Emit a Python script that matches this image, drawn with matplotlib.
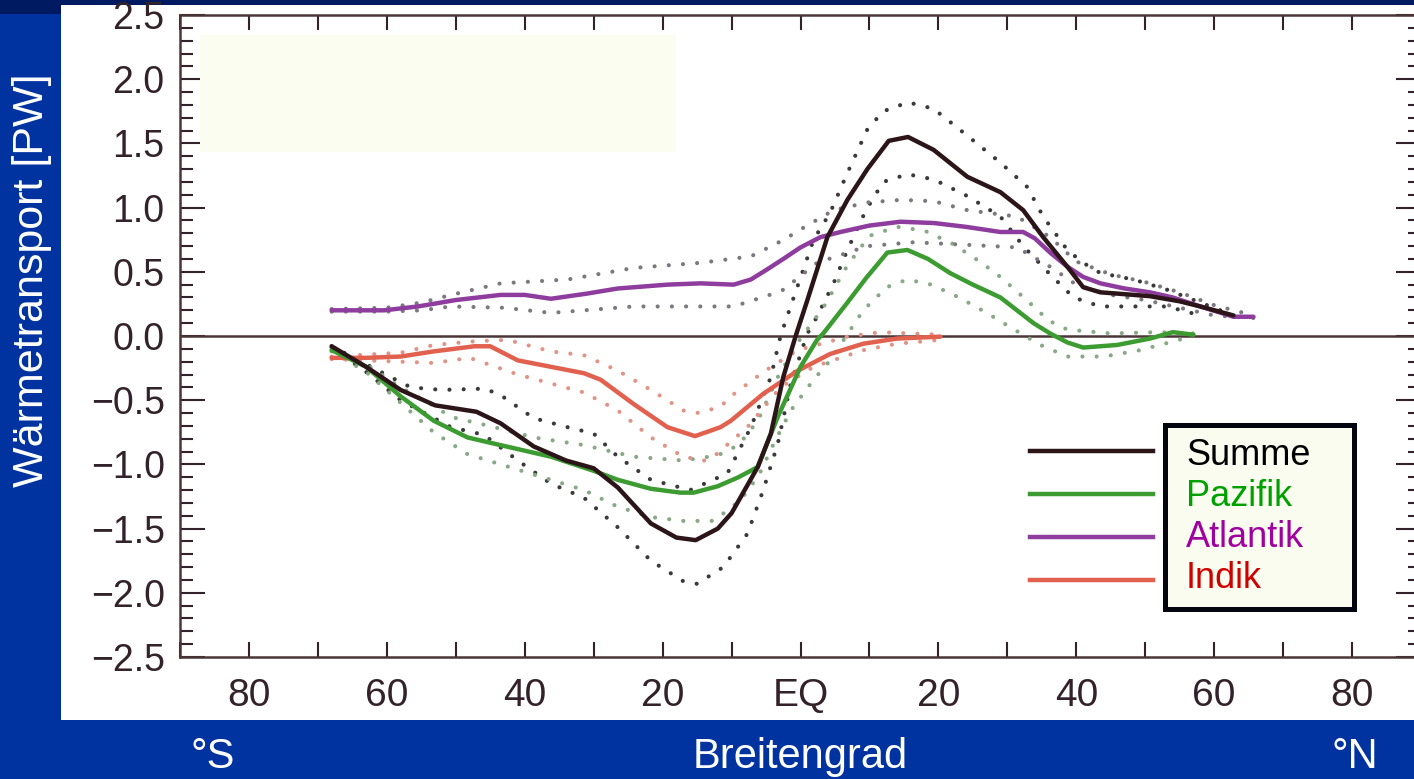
import matplotlib
matplotlib.use("Agg")
import matplotlib.pyplot as plt
from matplotlib.patches import Rectangle
from matplotlib.ticker import MultipleLocator, FixedLocator

plt.rcParams['font.family'] = ['Liberation Sans', 'DejaVu Sans']

# --- data (latitude in deg, negative = south; PW) ---
sum_lat = [-68, -63, -58, -53, -47, -43.5, -38.7, -34, -30, -26.5, -21.7, -18, -15.2, -12, -10,
           -6.2, -4.3, -2.5, -0.7, 1, 3.9, 6.8, 9.7, 12.8, 15.6, 19.3, 24.2, 29, 32.3, 35.2,
           38.7, 41, 43.5, 46, 50.7, 55, 58, 62.8]
sum_val = [-0.08, -0.24, -0.42, -0.54, -0.59, -0.68, -0.86, -0.97, -1.03, -1.18, -1.46, -1.57, -1.59,
           -1.50, -1.38, -1.02, -0.76, -0.32, 0.0, 0.28, 0.77, 1.06, 1.30, 1.52, 1.55, 1.45, 1.24,
           1.12, 0.98, 0.77, 0.54, 0.38, 0.34, 0.33, 0.31, 0.27, 0.23, 0.16]

sum_hi_lat = [-68, -63, -58, -56.5, -52, -45.8, -43.5, -38.7, -33.8, -30, -26.5, -21.7, -16, -10.6,
              -7.2, -4.3, -2.9, -1.5, 1.9, 4.3, 6.8, 9.7, 12, 15.6, 19.3, 24.2, 29, 32.9, 35.2,
              38.7, 41, 43.5, 48.3, 53.2, 58, 61.9]
sum_hi_val = [-0.08, -0.22, -0.36, -0.40, -0.42, -0.41, -0.46, -0.64, -0.71, -0.76, -0.94, -1.12,
              -1.20, -1.07, -0.71, -0.32, 0.0, 0.22, 0.75, 0.96, 1.27, 1.61, 1.75, 1.82, 1.77, 1.56,
              1.35, 1.16, 0.93, 0.67, 0.57, 0.49, 0.44, 0.36, 0.26, 0.18]

sum_lo_lat = [-68, -63, -58, -50.7, -45.9, -41, -36.2, -31.4, -26.5, -21.7, -17, -15, -11.2, -7.7,
              -5.4, -3.3, -1.4, 1, 1.9, 4.8, 6.8, 9.5, 12, 15.5, 19.3, 24.2, 29, 32.3, 36.2, 39.6,
              43.5, 48.3, 53.2, 58]
sum_lo_val = [-0.09, -0.28, -0.50, -0.71, -0.77, -0.97, -1.15, -1.26, -1.49, -1.75, -1.91, -1.93,
              -1.80, -1.54, -1.20, -0.84, -0.37, 0.02, 0.10, 0.41, 0.67, 0.98, 1.20, 1.26, 1.22,
              1.09, 0.93, 0.70, 0.48, 0.30, 0.23, 0.23, 0.23, 0.16]

pac_lat = [-68, -63, -58, -53.2, -48.3, -43.5, -36.2, -30, -26.5, -21.7, -17.4, -15.5, -12, -9,
           -6.2, -3.3, 0, 2.4, 3.3, 6.8, 9.5, 12.6, 15.5, 18.5, 21.7, 25, 29, 33.8, 36.2, 38.7,
           41, 45.9, 50.7, 54, 57]
pac_val = [-0.11, -0.24, -0.47, -0.66, -0.79, -0.85, -0.94, -1.05, -1.12, -1.19, -1.22, -1.22,
           -1.17, -1.10, -1.02, -0.63, -0.24, -0.03, 0.02, 0.26, 0.45, 0.65, 0.67, 0.60, 0.49,
           0.40, 0.30, 0.10, 0.02, -0.05, -0.09, -0.07, -0.02, 0.03, 0.01]

pac_hi_lat = [-68, -63, -58, -53, -50.7, -44.4, -38.7, -31.4, -24.2, -17, -12, -9, -6.2, -3.3, 0,
              3.3, 6.8, 10, 14, 18, 22, 26, 29, 33, 36, 38.7, 45, 52, 57]
pac_hi_val = [-0.11, -0.22, -0.40, -0.55, -0.63, -0.71, -0.79, -0.85, -0.94, -0.97, -0.93, -0.85,
              -0.66, -0.32, -0.02, 0.22, 0.55, 0.78, 0.85, 0.82, 0.72, 0.58, 0.46, 0.27, 0.12,
              0.05, 0.02, 0.03, 0.02]

pac_lo_lat = [-68, -63, -58, -53.2, -48.3, -43.5, -36.2, -31.4, -26.5, -21.7, -17, -12.6, -8.7, -6,
              -3.9, -1.4, 1.9, 4.3, 9.1, 12.5, 15.5, 19, 23, 27, 31, 34.8, 38.7, 44, 49.3, 57]
pac_lo_val = [-0.12, -0.28, -0.52, -0.75, -0.92, -1.00, -1.12, -1.20, -1.33, -1.41, -1.44, -1.44,
              -1.28, -1.08, -0.84, -0.58, -0.34, -0.19, 0.20, 0.38, 0.44, 0.40, 0.30, 0.18, 0.05,
              -0.07, -0.16, -0.16, -0.11, 0.0]

atl_lat = [-68, -60.4, -55.5, -50, -43.5, -40, -36.2, -31, -26.5, -19.3, -14.5, -9.7, -7.2, -4.8,
           -2.5, 0, 2.9, 5.8, 10, 14.5, 19.3, 24, 26.5, 29, 32.3, 34, 36.2, 38.7, 41, 43.5, 47,
           50.7, 54, 58, 62.8, 65.7]
atl_val = [0.20, 0.20, 0.23, 0.28, 0.32, 0.32, 0.29, 0.33, 0.37, 0.40, 0.41, 0.40, 0.44, 0.52,
           0.60, 0.69, 0.77, 0.81, 0.86, 0.89, 0.88, 0.85, 0.83, 0.81, 0.81, 0.76, 0.65, 0.54,
           0.46, 0.41, 0.37, 0.34, 0.30, 0.23, 0.15, 0.15]

atl_hi_lat = [-68, -60, -55, -50.7, -43.5, -33.8, -24.2, -14.5, -7.2, -2.4, 0, 4.8, 9.7, 14.5,
              19.3, 24.2, 31.4, 36.2, 40, 45, 50, 55, 60, 65.7]
atl_hi_val = [0.21, 0.22, 0.26, 0.32, 0.41, 0.44, 0.53, 0.57, 0.62, 0.75, 0.83, 0.98, 1.04, 1.06,
              1.05, 0.98, 0.93, 0.77, 0.58, 0.48, 0.42, 0.34, 0.24, 0.16]

atl_lo_lat = [-68, -60, -55, -50.7, -43, -36.2, -24.2, -9.7, -3.9, -2.5, 2.4, 9.7, 16.4, 24.2,
              31.4, 36.2, 40, 45, 50, 55, 60, 65.7]
atl_lo_val = [0.19, 0.19, 0.20, 0.23, 0.22, 0.18, 0.23, 0.23, 0.33, 0.36, 0.57, 0.70, 0.73, 0.71,
              0.69, 0.54, 0.40, 0.32, 0.28, 0.22, 0.16, 0.14]

ind_lat = [-68, -63, -58, -53.2, -47.3, -45, -41, -36.2, -31.4, -29, -24.2, -19.3, -15.3, -11.6,
           -10.1, -5.4, -0.4, 4.3, 9.1, 14, 20.3]
ind_val = [-0.17, -0.17, -0.16, -0.12, -0.08, -0.08, -0.19, -0.24, -0.29, -0.34, -0.53, -0.71,
           -0.78, -0.71, -0.66, -0.45, -0.27, -0.14, -0.06, -0.02, -0.005]

ind_hi_lat = [-68, -58, -53.2, -47, -42.5, -36.2, -31.4, -26.5, -21.7, -17, -14.7, -11.6, -10.1,
              -5.4, -0.4, 6.8, 11.6, 20.3]
ind_hi_val = [-0.16, -0.13, -0.07, -0.04, -0.03, -0.12, -0.15, -0.27, -0.42, -0.58, -0.60, -0.55,
              -0.47, -0.28, -0.11, -0.005, 0.03, 0.01]

ind_lo_lat = [-68, -58, -53.2, -48, -41, -36.2, -31.4, -26.5, -21.7, -17, -14, -12.6, -7.7, -2.9,
              1.9, 9.1, 14, 20.3]
ind_lo_val = [-0.18, -0.20, -0.21, -0.17, -0.30, -0.37, -0.44, -0.58, -0.79, -0.94, -0.97, -0.94,
              -0.71, -0.40, -0.24, -0.11, -0.06, -0.03]

x_ticks = [-80, -60, -40, -20, 0, 20, 40, 60, 80]
x_labels = ['80', '60', '40', '20', 'EQ', '20', '40', '60', '80']
y_ticks = [-2.5, -2.0, -1.5, -1.0, -0.5, 0.0, 0.5, 1.0, 1.5, 2.0, 2.5]

legend_names = ['Summe', 'Pazifik', 'Atlantik', 'Indik']
line_colors = ['#2b1519', '#3c9c32', '#8e3c9e', '#e2604e']
text_colors = ['#000000', '#00a000', '#a000a0', '#d00000']
band_colors = ['#3a3a3a', '#88a886', '#7d7880', '#e09488']

W, H = 1414, 779
fig = plt.figure(figsize=(W / 100, H / 100), dpi=100)
fig.patch.set_facecolor('#0033a0')

def px_rect(x0, y0, x1, y1, color):
    fig.add_artist(Rectangle((x0 / W, 1 - y1 / H), (x1 - x0) / W, (y1 - y0) / H,
                             transform=fig.transFigure, color=color, lw=0, zorder=-5))

px_rect(0, 0, W, 5, '#001a62')
px_rect(0, 0, 61, 14, '#001a62')
px_rect(61, 5, W, 720, 'white')

ax = fig.add_axes([180 / W, 1 - 657 / H, 1241 / W, 642 / H])
ax.patch.set_alpha(0)
ax.set_xlim(-90, 90)
ax.set_ylim(-2.5, 2.5)

ink = '#33222a'
ax.axhline(0, color='#4a3537', lw=1.8, zorder=2)

curves = [(sum_lat, sum_val, sum_hi_lat, sum_hi_val, sum_lo_lat, sum_lo_val),
          (pac_lat, pac_val, pac_hi_lat, pac_hi_val, pac_lo_lat, pac_lo_val),
          (atl_lat, atl_val, atl_hi_lat, atl_hi_val, atl_lo_lat, atl_lo_val),
          (ind_lat, ind_val, ind_hi_lat, ind_hi_val, ind_lo_lat, ind_lo_val)]
dots = (0, (0.01, 3.4))
for i, (la, va, hla, hva, lla, lva) in enumerate(curves):
    ax.plot(hla, hva, color=band_colors[i], lw=3.0, ls=dots, dash_capstyle='round', zorder=3)
    ax.plot(lla, lva, color=band_colors[i], lw=3.0, ls=dots, dash_capstyle='round', zorder=3)
for i, (la, va, *_rest) in reversed(list(enumerate(curves))):
    ax.plot(la, va, color=line_colors[i], lw=3.2, solid_capstyle='round', zorder=4)

# ivory patch at top left
ax.add_patch(Rectangle((0.016, 0.786), 0.384, 0.183, transform=ax.transAxes,
                       fc='#fbfdf0', ec='none', zorder=5))

# legend: sample lines outside, labels in a framed box
legend_y = [0.3209, 0.2539, 0.1869, 0.1199]
for yy, c in zip(legend_y, line_colors):
    ax.plot([0.685, 0.784], [yy, yy], transform=ax.transAxes, color=c, lw=3.2, zorder=6)
ax.add_patch(Rectangle((0.794, 0.075), 0.152, 0.286, transform=ax.transAxes,
                       fc='#fafcef', ec='#05050f', lw=3.6, zorder=6))
text_y = [0.299, 0.235, 0.171, 0.1075]
for yy, name, c in zip(text_y, legend_names, text_colors):
    ax.text(0.8106, yy, name, transform=ax.transAxes, color=c, fontsize=26,
            va='baseline', ha='left', zorder=7)

ax.xaxis.set_major_locator(FixedLocator(x_ticks))
ax.set_xticklabels(x_labels)
ax.xaxis.set_minor_locator(MultipleLocator(10))
ax.yaxis.set_major_locator(FixedLocator(y_ticks))
ax.yaxis.set_minor_locator(MultipleLocator(0.1))
ax.set_yticklabels(['\u22122.5', '\u22122.0', '\u22121.5', '\u22121.0', '\u22120.5',
                    '0.0', '0.5', '1.0', '1.5', '2.0', '2.5'])

ax.tick_params(axis='x', which='both', direction='in', length=11, width=1.5, color=ink,
               top=True, bottom=True, labelsize=28, labelcolor=ink, pad=15)
ax.tick_params(axis='y', which='major', direction='in', length=18, width=1.5, color=ink,
               left=True, right=True, labelsize=27, labelcolor=ink, pad=11)
ax.tick_params(axis='y', which='minor', direction='in', length=9.5, width=1.5, color=ink,
               left=True, right=True)
for s in ax.spines.values():
    s.set_color('#4a3537')
    s.set_linewidth(1.8)

fig.text(32 / W, 1 - 280 / H, 'Wärmetransport [PW]', rotation=90, color='white',
         fontsize=31, ha='center', va='center')
fig.text(213 / W, 1 - 757 / H, '°S', color='white', fontsize=30, ha='center', va='center')
fig.text(800 / W, 1 - 757 / H, 'Breitengrad', color='white', fontsize=30, ha='center', va='center')
fig.text(1355 / W, 1 - 757 / H, '°N', color='white', fontsize=30, ha='center', va='center')

fig.savefig('out.png', dpi=100, facecolor=fig.get_facecolor())
